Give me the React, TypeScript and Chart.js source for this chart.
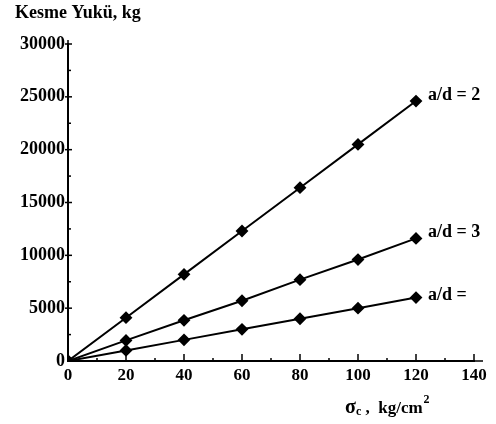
import React, { useEffect, useRef } from "react";
import { Chart, registerables } from "chart.js";

Chart.register(...registerables);

// σc values (kg/cm²)
const stressValues = [0, 20, 40, 60, 80, 100, 120];
// Shear load (kg) for each a/d ratio
const loadAd2 = [0, 4100, 8200, 12300, 16400, 20500, 24600];
const loadAd3 = [0, 1950, 3850, 5700, 7700, 9600, 11600];
const loadAdX = [0, 1000, 2000, 3000, 4000, 5000, 6000];
const seriesLabels = ["a/d = 2", "a/d = 3", "a/d ="];
const labelOffsets = [-6, -6, -2];

const yTitle = "Kesme Yukü, kg";

const SERIF = '"Liberation Serif", "Times New Roman", serif';

const toPoints = (ys: number[]) => stressValues.map((x, i) => ({ x, y: ys[i] }));

const annotations = {
  id: "annotations",
  afterDraw(chart: any) {
    const ctx = chart.ctx as CanvasRenderingContext2D;
    const xs = chart.scales.x;
    const ys = chart.scales.y;
    const area = chart.chartArea;
    ctx.save();
    ctx.strokeStyle = "#000";
    ctx.fillStyle = "#000";
    ctx.lineWidth = 1.5;

    // axis extensions
    ctx.beginPath();
    ctx.moveTo(area.left, area.top - 4);
    ctx.lineTo(area.left, area.bottom);
    ctx.moveTo(area.left, area.bottom);
    ctx.lineTo(area.right + 9, area.bottom);
    ctx.stroke();

    // x tick marks (inside)
    for (let v = 10; v <= 140; v += 10) {
      const px = xs.getPixelForValue(v);
      const len = v % 20 === 0 ? 7 : 3;
      ctx.beginPath();
      ctx.moveTo(px, area.bottom);
      ctx.lineTo(px, area.bottom - len);
      ctx.stroke();
    }
    // y tick marks
    for (let v = 2500; v <= 30000; v += 2500) {
      const py = ys.getPixelForValue(v);
      const major = v % 5000 === 0;
      ctx.beginPath();
      ctx.moveTo(area.left - (major ? 3 : 0), py);
      ctx.lineTo(area.left + (major ? 4 : 3), py);
      ctx.stroke();
    }

    // y axis title
    ctx.font = `bold 18px ${SERIF}`;
    ctx.textBaseline = "middle";
    ctx.textAlign = "left";
    ctx.fillText(yTitle, 15, 13);

    // series labels at line ends
    ctx.font = `bold 18px ${SERIF}`;
    chart.data.datasets.forEach((ds: any, i: number) => {
      const last = ds.data[ds.data.length - 1];
      const px = xs.getPixelForValue(last.x);
      const py = ys.getPixelForValue(last.y);
      ctx.fillText(seriesLabels[i], px + 12, py + labelOffsets[i]);
    });

    // x axis title: σc , kg/cm²
    const baseY = 413;
    let cx = 345;
    ctx.textBaseline = "alphabetic";
    ctx.font = `bold 20px ${SERIF}`;
    ctx.fillText("σ", cx, baseY);
    cx += ctx.measureText("σ").width;
    ctx.font = `bold 12px ${SERIF}`;
    ctx.fillText("c", cx, baseY + 2);
    cx += ctx.measureText("c").width;
    ctx.font = `bold 17px ${SERIF}`;
    ctx.fillText(" ,  kg/cm", cx, baseY);
    cx += ctx.measureText(" ,  kg/cm").width;
    ctx.font = `bold 12px ${SERIF}`;
    ctx.fillText("2", cx + 1, baseY - 10);
    ctx.restore();
  },
};

export default function App() {
  const ref = useRef<HTMLCanvasElement>(null);

  useEffect(() => {
    if (!ref.current) return;
    const lineStyle = {
      borderColor: "#000",
      backgroundColor: "#000",
      borderWidth: 2,
      pointStyle: "rectRot" as const,
      pointRadius: 5,
      pointBackgroundColor: "#000",
      pointBorderColor: "#000",
      tension: 0,
    };
    const chart = new Chart(ref.current, {
      type: "line",
      data: {
        datasets: [
          { label: seriesLabels[0], data: toPoints(loadAd2), ...lineStyle },
          { label: seriesLabels[1], data: toPoints(loadAd3), ...lineStyle },
          { label: seriesLabels[2], data: toPoints(loadAdX), ...lineStyle },
        ],
      },
      options: {
        responsive: false,
        animation: false,
        devicePixelRatio: 1,
        layout: { padding: { left: 0, top: 44, right: 22, bottom: 0 } },
        plugins: {
          legend: { display: false },
          tooltip: { enabled: false },
        },
        scales: {
          x: {
            type: "linear",
            min: 0,
            max: 140,
            grid: { display: false, drawTicks: false },
            border: { display: true, color: "#000", width: 2 },
            ticks: {
              stepSize: 20,
              padding: 4,
              color: "#000",
              font: { family: SERIF, size: 17, weight: "bold" },
              callback: (v: any) => String(v),
            },
            afterFit: (s: any) => {
              s.height = 63;
            },
          },
          y: {
            type: "linear",
            min: 0,
            max: 30000,
            grid: { display: false, drawTicks: false },
            border: { display: true, color: "#000", width: 2 },
            ticks: {
              stepSize: 5000,
              padding: 3,
              color: "#000",
              font: { family: SERIF, size: 18, weight: "bold" },
              callback: (v: any) => String(v),
            },
            afterFit: (s: any) => {
              s.width = 68;
            },
          },
        },
      },
      plugins: [annotations],
    });
    return () => chart.destroy();
  }, []);

  return (
    <div style={{ position: "absolute", left: 0, top: 0, width: 496, height: 424, background: "#fff" }}>
      <canvas ref={ref} width={496} height={424} />
    </div>
  );
}
